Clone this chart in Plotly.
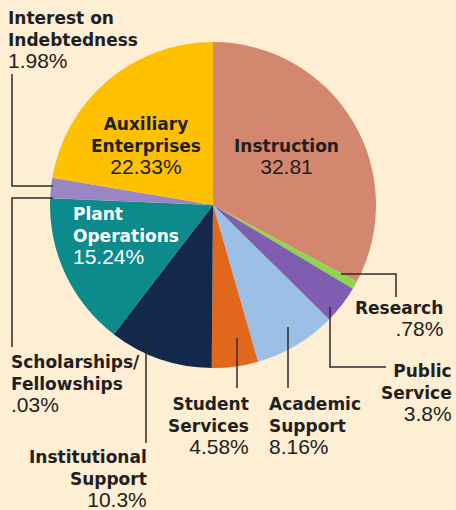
import plotly.graph_objects as go

W, H = 456, 510

# clockwise from 12 o'clock
names = [
    "Instruction", "Research", "Public<br>Service", "Academic<br>Support",
    "Student<br>Services", "Institutional<br>Support", "Plant<br>Operations",
    "Scholarships/<br>Fellowships", "Interest on<br>Indebtedness",
    "Auxiliary<br>Enterprises",
]
values = [32.81, 0.78, 3.8, 8.16, 4.58, 10.3, 15.24, 0.03, 1.98, 22.33]
value_text = ["32.81", ".78%", "3.8%", "8.16%", "4.58%", "10.3%", "15.24%",
              ".03%", "1.98%", "22.33%"]
colors = ["#d4876f", "#8ed64c", "#7f5eb2", "#9cbfe6", "#e0671b", "#13284a",
          "#0d8a8c", "#2a8a8a", "#9a85c6", "#fdc100"]


def px(x, y):
    return x / W, 1 - y / H


cx, cy, r = 213, 205, 163
fig = go.Figure(go.Pie(
    labels=[n.replace("<br>", " ") for n in names],
    values=values,
    sort=False,
    direction="clockwise",
    rotation=0,
    textinfo="none",
    hoverinfo="label+value",
    marker=dict(colors=colors, line=dict(width=0)),
    domain=dict(x=[(cx - r) / W, (cx + r) / W], y=[1 - (cy + r) / H, 1 - (cy - r) / H]),
    showlegend=False,
))

# label placement: (x, y middle, anchor, text colour)
label_pos = [
    (286, 157, "center", "#231f20"),
    (444, 319, "right", "#231f20"),
    (453, 393, "right", "#231f20"),
    (268, 426, "left", "#231f20"),
    (250, 426, "right", "#231f20"),
    (148, 479, "right", "#231f20"),
    (72, 236, "left", "white"),
    (10, 384, "left", "#231f20"),
    (7, 40, "left", "#231f20"),
    (146, 146, "center", "#231f20"),
]
for name, vt, (x, y, anchor, col) in zip(names, value_text, label_pos):
    ax, ay = px(x, y)
    fig.add_annotation(
        x=ax, y=ay, xref="paper", yref="paper",
        xanchor=anchor, yanchor="middle", align=anchor,
        text=f"<b>{name}</b><br>"
             f"<span style=\"font-family:Liberation Sans;font-size:21px\">{vt}</span>",
        showarrow=False, borderpad=0,
        font=dict(family="DejaVu Sans", size=17, color=col),
    )

# leader lines (pixel coords)
leaders = [
    [(12, 74), (12, 186), (53, 186)],
    [(53, 198), (12, 198), (12, 347)],
    [(146, 335), (146, 443)],
    [(237, 338), (237, 388)],
    [(288, 327), (288, 388)],
    [(330, 307), (330, 367), (386, 367)],
    [(341, 274), (396, 274), (396, 297)],
]
for pts in leaders:
    path = ""
    for i, (x, y) in enumerate(pts):
        a, b = px(x, y)
        path += ("M" if i == 0 else " L") + f" {a} {b}"
    fig.add_shape(type="path", path=path, xref="paper", yref="paper",
                  line=dict(color="#2b2b2b", width=1.5))

fig.update_layout(
    width=W, height=H,
    margin=dict(l=0, r=0, t=0, b=0),
    paper_bgcolor="#fdeed4",
    plot_bgcolor="#fdeed4",
)
fig.write_html("out.html", config={"displayModeBar": False},
               post_script="document.body.style.margin='0';")
